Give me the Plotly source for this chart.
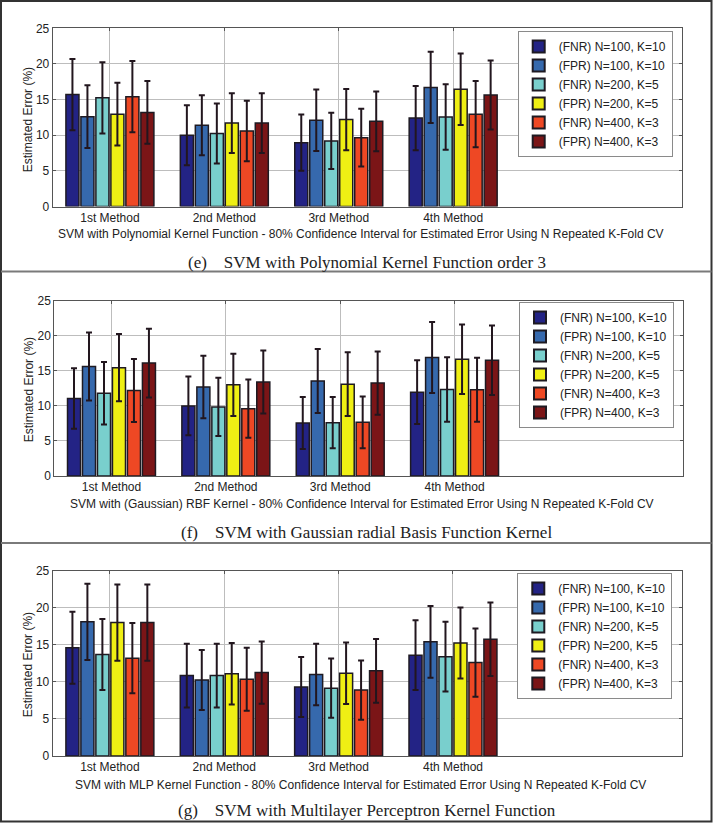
import plotly.graph_objects as go

W, H = 714, 823

categories = ["1st Method", "2nd Method", "3rd Method", "4th Method"]
series_names = ["(FNR) N=100, K=10", "(FPR) N=100, K=10", "(FNR) N=200, K=5",
                "(FPR) N=200, K=5", "(FNR) N=400, K=3", "(FPR) N=400, K=3"]
series_colors = ["#232385", "#3669ad", "#79cfcd", "#efef14", "#ee4824", "#7b1517"]

# (e) Polynomial kernel: mean estimated error (%) per series, per method
poly_mean = [[15.7, 10.0, 8.95, 12.4],
             [12.6, 11.4, 12.1, 16.7],
             [15.25, 10.25, 9.2, 12.55],
             [12.95, 11.7, 12.2, 16.45],
             [15.4, 10.6, 9.65, 12.95],
             [13.2, 11.7, 11.95, 15.65]]
poly_err = [[5.0, 4.2, 3.95, 4.5],
            [4.4, 4.2, 4.3, 5.0],
            [5.0, 4.2, 3.95, 4.6],
            [4.4, 4.2, 4.3, 5.0],
            [5.0, 4.25, 4.05, 4.65],
            [4.4, 4.2, 4.2, 4.85]]

# (f) Gaussian RBF kernel
rbf_mean = [[11.05, 10.0, 7.55, 11.95],
            [15.6, 12.7, 13.55, 16.9],
            [11.8, 9.85, 7.6, 12.35],
            [15.45, 13.0, 13.1, 16.65],
            [12.2, 9.6, 7.65, 12.3],
            [16.1, 13.4, 13.25, 16.5]]
rbf_err = [[4.3, 4.2, 3.7, 4.55],
           [4.85, 4.45, 4.55, 5.05],
           [4.45, 4.15, 3.65, 4.6],
           [4.8, 4.45, 4.55, 4.95],
           [4.5, 4.15, 3.7, 4.55],
           [4.9, 4.5, 4.5, 4.95]]

# (g) MLP kernel
mlp_mean = [[14.6, 10.85, 9.3, 13.6],
            [18.1, 10.25, 11.0, 15.4],
            [13.7, 10.85, 9.15, 13.4],
            [18.0, 11.1, 11.15, 15.25],
            [13.2, 10.35, 8.9, 12.6],
            [18.0, 11.25, 11.5, 15.75]]
mlp_err = [[4.85, 4.3, 4.05, 4.7],
           [5.15, 4.05, 4.15, 4.85],
           [4.8, 4.3, 4.0, 4.7],
           [5.15, 4.15, 4.15, 4.8],
           [4.75, 4.25, 4.0, 4.6],
           [5.15, 4.2, 4.3, 4.95]]

x_titles = [
    "SVM with Polynomial Kernel Function - 80% Confidence Interval for Estimated Error Using N Repeated K-Fold CV",
    "SVM with (Gaussian) RBF Kernel - 80% Confidence Interval for Estimated Error Using N Repeated K-Fold CV",
    "SVM with MLP Kernel Function - 80% Confidence Interval for Estimated Error Using N Repeated K-Fold CV",
]
captions = [
    "(e)\u2003SVM with Polynomial Kernel Function order 3",
    "(f)\u2003SVM with Gaussian radial Basis Function Kernel",
    "(g)\u2003SVM with Multilayer Perceptron Kernel Function",
]
y_title = "Estimated Error (%)"

# ---- layout geometry (pixels) ----
panels = [
    dict(x0=52.7, x1=682.0, y0=28.3, y1=206.5, leg=(517.7, 31.0), xt=234, ylab=(28.3, 120),
         cap=262, mean=poly_mean, err=poly_err),
    dict(x0=54.3, x1=683.3, y0=300.7, y1=476.0, leg=(519.0, 302.0), xt=504, ylab=(29.3, 390),
         cap=532, mean=rbf_mean, err=rbf_err),
    dict(x0=52.7, x1=681.7, y0=570.7, y1=756.0, leg=(517.3, 573.0), xt=785, ylab=(28.3, 665),
         cap=810, mean=mlp_mean, err=mlp_err),
]

FONT = "Liberation Sans, Arial, sans-serif"
SERIF = "Liberation Serif, Times New Roman, serif"

fig = go.Figure()
annotations = []
layout = {}
for p, pan in enumerate(panels):
    sfx = "" if p == 0 else str(p + 1)
    legname = "legend" + sfx
    for s, name in enumerate(series_names):
        fig.add_trace(go.Bar(
            x=categories, y=pan["mean"][s], name=name,
            marker=dict(color=series_colors[s], line=dict(color="#1e1a22", width=1.5)),
            error_y=dict(type="data", array=pan["err"][s], color="#22161e", thickness=2, width=3),
            xaxis="x" + sfx, yaxis="y" + sfx, legend=legname,
        ))
    layout["xaxis" + sfx] = dict(
        domain=[pan["x0"] / W, pan["x1"] / W], anchor="y" + sfx,
        type="category", range=[-0.5, 5.0], automargin=False,
        showgrid=True, gridcolor="#bdbdbd", gridwidth=1,
        showline=True, linecolor="#555555", linewidth=1, mirror="ticks",
        ticks="inside", ticklen=3, tickcolor="#555555",
        tickfont=dict(family=FONT, size=12, color="#222222"),
        fixedrange=True,
    )
    layout["yaxis" + sfx] = dict(
        domain=[1 - pan["y1"] / H, 1 - pan["y0"] / H], anchor="x" + sfx,
        range=[0, 25], dtick=5, tick0=0, automargin=False,
        showgrid=True, gridcolor="#bdbdbd", gridwidth=1,
        showline=True, linecolor="#555555", linewidth=1, mirror="ticks",
        ticks="inside", ticklen=3, tickcolor="#555555",
        tickfont=dict(family=FONT, size=12, color="#222222"),
        zeroline=False, fixedrange=True,
    )
    layout[legname] = dict(
        x=pan["leg"][0] / W, y=1 - pan["leg"][1] / H, xanchor="left", yanchor="top",
        bgcolor="white", bordercolor="#8a8a8a", borderwidth=1,
        font=dict(family=FONT, size=12, color="#222222"),
        tracegroupgap=0, itemsizing="constant",
    )
    annotations.append(dict(
        text=x_titles[p], x=(pan["x0"] + pan["x1"]) / 2 / W - 0.009, y=1 - pan["xt"] / H,
        xref="paper", yref="paper", showarrow=False, xanchor="center", yanchor="middle",
        font=dict(family=FONT, size=12, color="#222222"),
    ))
    annotations.append(dict(
        text=y_title, x=pan["ylab"][0] / W, y=1 - pan["ylab"][1] / H, textangle=-90,
        xref="paper", yref="paper", showarrow=False, xanchor="center", yanchor="middle",
        font=dict(family=FONT, size=12, color="#222222"),
    ))
    annotations.append(dict(
        text=captions[p], x=367 / W, y=1 - pan["cap"] / H,
        xref="paper", yref="paper", showarrow=False, xanchor="center", yanchor="middle",
        font=dict(family=SERIF, size=17, color="#222222"),
    ))

shapes = [
    dict(type="rect", xref="paper", yref="paper", x0=1 / W, x1=711.5 / W, y0=1 - 821.5 / H, y1=1 - 1 / H,
         line=dict(color="#333333", width=2), layer="above"),
    dict(type="line", xref="paper", yref="paper", x0=1 / W, x1=711.5 / W, y0=1 - 271.5 / H, y1=1 - 271.5 / H,
         line=dict(color="#7a7a7a", width=2)),
    dict(type="line", xref="paper", yref="paper", x0=1 / W, x1=711.5 / W, y0=1 - 543 / H, y1=1 - 543 / H,
         line=dict(color="#7a7a7a", width=2)),
]

fig.update_layout(
    width=W, height=H, autosize=False,
    margin=dict(l=0, r=0, t=0, b=0, pad=0),
    paper_bgcolor="white", plot_bgcolor="white",
    barmode="group", bargap=0.214, bargroupgap=0.13,
    annotations=annotations, shapes=shapes,
    **layout,
)

fig.write_html(
    "out.html",
    config={"displayModeBar": False},
    post_script="document.body.style.margin='0';document.body.style.overflow='hidden';",
)
